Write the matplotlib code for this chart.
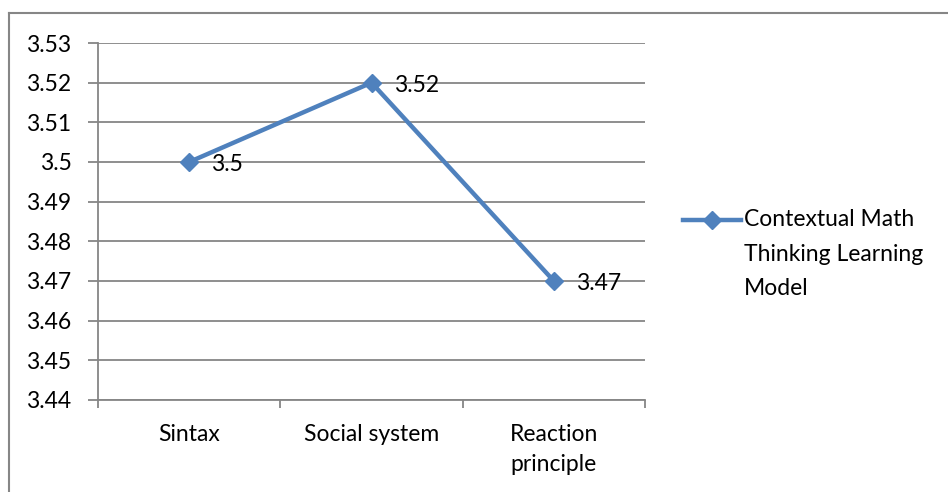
import matplotlib.pyplot as plt
from matplotlib.lines import Line2D

categories = ["Sintax", "Social system", "Reaction\nprinciple"]
values = [3.50, 3.52, 3.47]
value_labels = ["3.5", "3.52", "3.47"]
yticks = [3.44, 3.45, 3.46, 3.47, 3.48, 3.49, 3.50, 3.51, 3.52, 3.53]
ytick_labels = ["3.44", "3.45", "3.46", "3.47", "3.48", "3.49", "3.5", "3.51", "3.52", "3.53"]
series_name = "Contextual Math\nThinking Learning\nModel"

plt.rcParams['font.family'] = ['Lato', 'DejaVu Sans']
line_color = '#4F81BD'
grid_color = '#868686'
fs = 16.5

fig = plt.figure(figsize=(9.48, 4.92), dpi=100)
ax = fig.add_axes([0.1034, 0.187, 0.577, 0.7256])

x = list(range(len(categories)))
ax.plot(x, values, color=line_color, linewidth=3.2, marker='D', markersize=9.5,
        markeredgecolor=line_color, zorder=3)

# 数据标签放在点的右边
for xi, v, lab in zip(x, values, value_labels):
    ax.annotate(lab, (xi, v), xytext=(16, -2), textcoords='offset points',
                ha='left', va='center', fontsize=fs, color='black')

ax.set_xlim(-0.5, len(categories) - 0.5)
ax.set_ylim(3.44, 3.53)
ax.set_yticks(yticks)
ax.set_yticklabels(ytick_labels, fontsize=fs)
ax.yaxis.grid(True, color=grid_color, linewidth=1.3)
ax.set_axisbelow(True)

# 类别标签放在中间，刻度线在类别之间
ax.set_xticks(x)
ax.set_xticklabels(categories, fontsize=fs, va='top', linespacing=1.55)
ax.tick_params(axis='x', which='major', length=0, pad=17)
ax.set_xticks([i - 0.5 for i in range(len(categories) + 1)], minor=True)
ax.tick_params(axis='x', which='minor', length=6, width=1.3, color=grid_color)
ax.tick_params(axis='y', length=7, width=1.3, color=grid_color, pad=12)

for side in ['top', 'right']:
    ax.spines[side].set_visible(False)
for side in ['left', 'bottom']:
    ax.spines[side].set_color(grid_color)
    ax.spines[side].set_linewidth(1.3)

# 图例：手动画，线和第一行文字对齐
ly = 1 - 220 / 492
fig.add_artist(Line2D([683 / 948, 741 / 948], [ly, ly], color=line_color, linewidth=3.2))
fig.add_artist(Line2D([712 / 948], [ly], color=line_color, marker='D', markersize=9.5))
fig.text(744 / 948, ly + 11 / 492, series_name, fontsize=fs, ha='left', va='top',
         linespacing=1.8)

# 外框：左边和上边
fig.add_artist(Line2D([9 / 948, 9 / 948], [0, 1 - 13 / 492], color=grid_color, linewidth=1.5))
fig.add_artist(Line2D([9 / 948, 1], [1 - 13 / 492, 1 - 13 / 492], color=grid_color, linewidth=1.5))

fig.savefig('out.png', dpi=100)
